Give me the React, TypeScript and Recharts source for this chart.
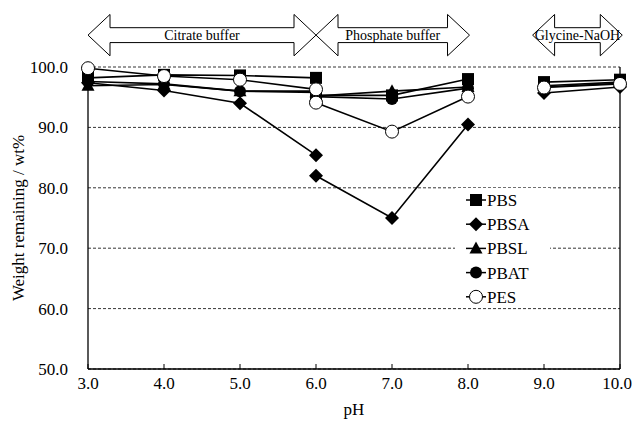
import React from "react";
import {
  LineChart,
  Line,
  XAxis,
  YAxis,
  CartesianGrid,
  ReferenceLine,
  ReferenceArea,
  Legend,
  Label,
} from "recharts";

// pH of each sample; pH 6 was measured in both citrate and phosphate buffer
const pH = [3, 4, 5, 6, 6, 7, 8, 9, 10];
const buffer = [
  "citrate",
  "citrate",
  "citrate",
  "citrate",
  "phosphate",
  "phosphate",
  "phosphate",
  "glycine",
  "glycine",
];

const PBS = [98.2, 98.7, 98.6, 98.2, 95.3, 95.3, 98.0, 97.5, 97.9];
const PBSA = [97.4, 96.1, 94.0, 85.4, 82.0, 75.0, 90.5, 95.7, 96.7];
const PBSL = [96.9, 97.1, 96.0, 95.8, 95.2, 96.0, 96.7, 96.9, 97.5];
const PBAT = [97.6, 97.2, 96.0, 96.0, 95.1, 94.7, 96.5, 96.7, 97.3];
const PES = [99.8, 98.5, 97.9, 96.3, 94.1, 89.3, 95.1, 96.6, 97.2];

const seriesNames = ["PBS", "PBSA", "PBSL", "PBAT", "PES"];
const seriesValues = [PBS, PBSA, PBSL, PBAT, PES];
const buffers = ["citrate", "phosphate", "glycine"];

const bufferNames = ["Citrate buffer", "Phosphate buffer", "Glycine-NaOH"];
const bufferStart = [3, 6, 8.85];
const bufferEnd = [6, 8.02, 10.03];

const xTicks = [3, 4, 5, 6, 7, 8, 9, 10];
const yTicks = [50, 60, 70, 80, 90, 100];

const FONT = "Liberation Serif";

function Marker({ name, cx, cy }: { name: string; cx: number; cy: number }) {
  if (cx == null || cy == null) return null;
  switch (name) {
    case "PBS":
      return <rect x={cx - 6} y={cy - 6} width={12} height={12} fill="#000" />;
    case "PBSA":
      return (
        <polygon
          points={`${cx},${cy - 7} ${cx + 7},${cy} ${cx},${cy + 7} ${cx - 7},${cy}`}
          fill="#000"
        />
      );
    case "PBSL":
      return (
        <polygon
          points={`${cx},${cy - 7} ${cx + 6.5},${cy + 5} ${cx - 6.5},${cy + 5}`}
          fill="#000"
        />
      );
    case "PBAT":
      return <circle cx={cx} cy={cy} r={6} fill="#000" />;
    default:
      return <circle cx={cx} cy={cy} r={6.5} fill="#fff" stroke="#000" strokeWidth={1} />;
  }
}

function BufferArrow(props: any) {
  const { x, y, width, height, label } = props;
  const h = Math.min(22, width / 2);
  const inset = height * 0.32;
  const mid = y + height / 2;
  const pts = [
    [x, mid],
    [x + h, y],
    [x + h, y + inset],
    [x + width - h, y + inset],
    [x + width - h, y],
    [x + width, mid],
    [x + width - h, y + height],
    [x + width - h, y + height - inset],
    [x + h, y + height - inset],
    [x + h, y + height],
  ]
    .map((p) => p.join(","))
    .join(" ");
  return (
    <g>
      <polygon points={pts} fill="none" stroke="#000" strokeWidth={1} />
      <text
        x={x + width / 2}
        y={mid}
        textAnchor="middle"
        dominantBaseline="central"
        style={{ fontSize: 14, fontFamily: FONT }}
        fill="#000"
      >
        {label}
      </text>
    </g>
  );
}

function XTick(props: any) {
  const { x, y, payload, index } = props;
  const last = index === xTicks.length - 1;
  return (
    <g>
      <line x1={x} x2={x} y1={y} y2={y - 5} stroke="#000" />
      <text
        x={last ? x + 12 : x}
        y={y + 20}
        textAnchor={last ? "end" : "middle"}
        style={{ fontSize: 17, fontFamily: FONT }}
        fill="#000"
      >
        {Number(payload.value).toFixed(1)}
      </text>
    </g>
  );
}

function LegendBox() {
  return (
    <svg width={95} height={120} style={{ display: "block", background: "#fff" }}>
      {seriesNames.map((name, i) => {
        const cy = 12 + i * 24.2;
        return (
          <g key={name}>
            <line x1={11} x2={31} y1={cy} y2={cy} stroke="#000" strokeWidth={1.5} />
            <Marker name={name} cx={21} cy={cy} />
            <text x={32} y={cy + 6} style={{ fontSize: 17, fontFamily: FONT }} fill="#000">
              {name}
            </text>
          </g>
        );
      })}
    </svg>
  );
}

export default function App() {
  return (
    <div style={{ width: 633, height: 421, background: "#fff", fontFamily: FONT }}>
      <style>{`body{margin:0;} svg text{font-family:"Liberation Serif",serif;}`}</style>
      <LineChart
        width={633}
        height={421}
        margin={{ top: 67, right: 13, bottom: 0, left: 8 }}
      >
        <CartesianGrid
          horizontal
          vertical={false}
          stroke="#000"
          strokeWidth={0.8}
          strokeDasharray="3 2"
        />
        <XAxis
          dataKey="pH"
          type="number"
          domain={[3, 10]}
          ticks={xTicks}
          allowDuplicatedCategory
          height={52}
          tickLine={false}
          tickSize={0}
          tickMargin={0}
          axisLine={{ stroke: "#000", strokeWidth: 1.3 }}
          tick={<XTick />}
        >
          <Label
            value="pH"
            position="insideBottom"
            offset={6}
            style={{ fontSize: 17, fontFamily: FONT, fill: "#000" }}
          />
        </XAxis>
        <YAxis
          type="number"
          domain={[50, 100]}
          ticks={yTicks}
          width={80}
          tickLine={false}
          tickSize={0}
          tickMargin={20}
          tickFormatter={(v: number) => v.toFixed(1)}
          tick={{ fontSize: 17, fontFamily: FONT, fill: "#000" }}
          axisLine={{ stroke: "#000", strokeWidth: 1.3 }}
        >
          <Label
            value="Weight remaining / wt%"
            angle={-90}
            position="insideLeft"
            offset={10}
            style={{ textAnchor: "middle", fontSize: 17, fontFamily: FONT, fill: "#000" }}
          />
        </YAxis>
        <ReferenceLine x={10} stroke="#000" strokeWidth={1.3} />
        {seriesNames.map((name, s) =>
          buffers.map((b) => {
            const data = pH
              .map((p, i) => ({ pH: p, value: seriesValues[s][i], buffer: buffer[i] }))
              .filter((d) => d.buffer === b);
            return (
              <Line
                key={`${name}-${b}`}
                data={data}
                dataKey="value"
                stroke="#000"
                strokeWidth={1.6}
                isAnimationActive={false}
                legendType="none"
                activeDot={false}
                dot={(p: any) => <Marker key={`${name}-${b}-${p.index}`} name={name} cx={p.cx} cy={p.cy} />}
              />
            );
          })
        )}
        {bufferNames.map((label, i) => (
          <ReferenceArea
            key={label}
            x1={bufferStart[i]}
            x2={bufferEnd[i]}
            y1={101.85}
            y2={108.7}
            ifOverflow="visible"
            shape={(p: any) => <BufferArrow {...p} label={label} />}
          />
        ))}
        <Legend
          layout="vertical"
          align="center"
          verticalAlign="middle"
          wrapperStyle={{ left: 455, top: 188, width: 95 }}
          content={() => <LegendBox />}
        />
      </LineChart>
    </div>
  );
}
